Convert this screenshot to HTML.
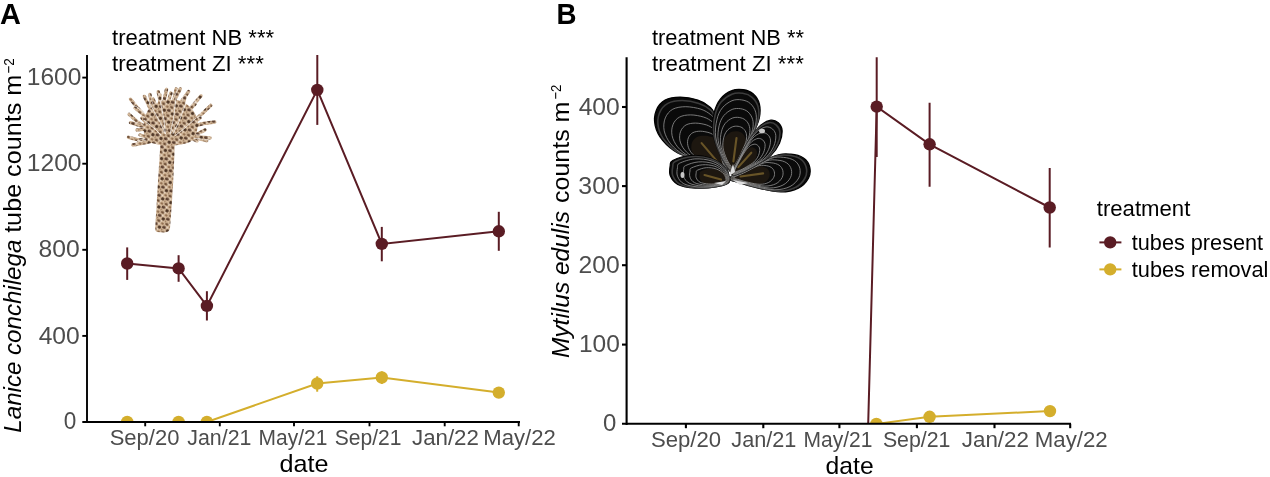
<!DOCTYPE html>
<html><head><meta charset="utf-8">
<style>
html,body{margin:0;padding:0;background:#fff;width:1270px;height:477px;overflow:hidden}
svg{display:block;will-change:transform}
text{font-family:"Liberation Sans",sans-serif}
</style></head>
<body>
<svg width="1270" height="477" viewBox="0 0 1270 477">
<defs>
<clipPath id="clipA"><rect x="86" y="55.1" width="436" height="366.9"/></clipPath>
<clipPath id="clipB"><rect x="625.5" y="57.2" width="447" height="366.6"/></clipPath>
</defs>
<rect width="1270" height="477" fill="#fff"/>
<defs><pattern id="wpat" width="10" height="10" patternUnits="userSpaceOnUse" patternTransform="rotate(25) scale(0.9)"><rect width="10" height="10" fill="#D5BA9C"/><ellipse cx="2" cy="2" rx="2.2" ry="1.6" fill="#5C4030"/><ellipse cx="7.2" cy="3.8" rx="1.9" ry="1.8" fill="#4E3626"/><ellipse cx="3.5" cy="7.5" rx="2.1" ry="1.5" fill="#6E4E36"/><ellipse cx="8.5" cy="8.8" rx="1.5" ry="1.3" fill="#8F6C4E"/><ellipse cx="5" cy="0.6" rx="1" ry="0.8" fill="#F2E6D8"/><ellipse cx="0.4" cy="5.2" rx="1.1" ry="1.1" fill="#9C7A5C"/><ellipse cx="5.8" cy="6.6" rx="0.9" ry="0.8" fill="#F2E6D8"/></pattern></defs>
<g id="worm">
<path d="M163.3,133.5 Q145.2,118.1 130.5,99.2" stroke="#FFFFFF" stroke-width="4.2" stroke-linecap="round" fill="none"/>
<path d="M163.3,133.5 Q145.2,118.1 130.5,99.2" stroke="url(#wpat)" stroke-width="3.4" stroke-linecap="round" fill="none"/>
<path d="M163.2,135.0 Q143.9,129.1 129.1,114.4" stroke="#FFFFFF" stroke-width="4.2" stroke-linecap="round" fill="none"/>
<path d="M163.2,135.0 Q143.9,129.1 129.1,114.4" stroke="url(#wpat)" stroke-width="3.4" stroke-linecap="round" fill="none"/>
<path d="M163.3,135.9 Q147.5,127.3 130.5,122.7" stroke="#FFFFFF" stroke-width="4.2" stroke-linecap="round" fill="none"/>
<path d="M163.3,135.9 Q147.5,127.3 130.5,122.7" stroke="url(#wpat)" stroke-width="3.4" stroke-linecap="round" fill="none"/>
<path d="M163.2,137.3 Q146.3,143.3 128.5,137.3" stroke="#FFFFFF" stroke-width="4.2" stroke-linecap="round" fill="none"/>
<path d="M163.2,137.3 Q146.3,143.3 128.5,137.3" stroke="url(#wpat)" stroke-width="3.4" stroke-linecap="round" fill="none"/>
<path d="M164.2,137.8 Q151.4,139.5 138.8,142.1" stroke="#FFFFFF" stroke-width="4.2" stroke-linecap="round" fill="none"/>
<path d="M164.2,137.8 Q151.4,139.5 138.8,142.1" stroke="url(#wpat)" stroke-width="3.4" stroke-linecap="round" fill="none"/>
<path d="M164.7,133.2 Q153.0,115.8 144.4,96.4" stroke="#FFFFFF" stroke-width="4.2" stroke-linecap="round" fill="none"/>
<path d="M164.7,133.2 Q153.0,115.8 144.4,96.4" stroke="url(#wpat)" stroke-width="3.4" stroke-linecap="round" fill="none"/>
<path d="M165.3,133.0 Q151.9,116.2 149.9,94.4" stroke="#FFFFFF" stroke-width="4.2" stroke-linecap="round" fill="none"/>
<path d="M165.3,133.0 Q151.9,116.2 149.9,94.4" stroke="url(#wpat)" stroke-width="3.4" stroke-linecap="round" fill="none"/>
<path d="M166.1,132.8 Q162.3,112.2 158.2,91.6" stroke="#FFFFFF" stroke-width="4.2" stroke-linecap="round" fill="none"/>
<path d="M166.1,132.8 Q162.3,112.2 158.2,91.6" stroke="url(#wpat)" stroke-width="3.4" stroke-linecap="round" fill="none"/>
<path d="M166.9,132.6 Q160.3,111.1 166.5,89.5" stroke="#FFFFFF" stroke-width="4.2" stroke-linecap="round" fill="none"/>
<path d="M166.9,132.6 Q160.3,111.1 166.5,89.5" stroke="url(#wpat)" stroke-width="3.4" stroke-linecap="round" fill="none"/>
<path d="M167.9,132.5 Q171.1,110.5 176.2,88.8" stroke="#FFFFFF" stroke-width="4.2" stroke-linecap="round" fill="none"/>
<path d="M167.9,132.5 Q171.1,110.5 176.2,88.8" stroke="url(#wpat)" stroke-width="3.4" stroke-linecap="round" fill="none"/>
<path d="M168.3,132.5 Q168.5,108.9 180.3,88.8" stroke="#FFFFFF" stroke-width="4.2" stroke-linecap="round" fill="none"/>
<path d="M168.3,132.5 Q168.5,108.9 180.3,88.8" stroke="url(#wpat)" stroke-width="3.4" stroke-linecap="round" fill="none"/>
<path d="M169.2,132.8 Q173.8,109.6 188.6,91.6" stroke="#FFFFFF" stroke-width="4.2" stroke-linecap="round" fill="none"/>
<path d="M169.2,132.8 Q173.8,109.6 188.6,91.6" stroke="url(#wpat)" stroke-width="3.4" stroke-linecap="round" fill="none"/>
<path d="M170.4,133.2 Q184.9,113.8 201.0,95.8" stroke="#FFFFFF" stroke-width="4.2" stroke-linecap="round" fill="none"/>
<path d="M170.4,133.2 Q184.9,113.8 201.0,95.8" stroke="url(#wpat)" stroke-width="3.4" stroke-linecap="round" fill="none"/>
<path d="M171.4,134.1 Q193.6,123.6 210.8,105.4" stroke="#FFFFFF" stroke-width="4.2" stroke-linecap="round" fill="none"/>
<path d="M171.4,134.1 Q193.6,123.6 210.8,105.4" stroke="url(#wpat)" stroke-width="3.4" stroke-linecap="round" fill="none"/>
<path d="M171.8,135.8 Q192.1,123.8 214.9,122.0" stroke="#FFFFFF" stroke-width="4.2" stroke-linecap="round" fill="none"/>
<path d="M171.8,135.8 Q192.1,123.8 214.9,122.0" stroke="url(#wpat)" stroke-width="3.4" stroke-linecap="round" fill="none"/>
<path d="M171.0,137.7 Q189.4,135.4 206.6,140.7" stroke="#FFFFFF" stroke-width="4.2" stroke-linecap="round" fill="none"/>
<path d="M171.0,137.7 Q189.4,135.4 206.6,140.7" stroke="url(#wpat)" stroke-width="3.4" stroke-linecap="round" fill="none"/>
<path d="M163.8,134.4 Q150.5,119.8 135.0,108.0" stroke="#FFFFFF" stroke-width="4.2" stroke-linecap="round" fill="none"/>
<path d="M163.8,134.4 Q150.5,119.8 135.0,108.0" stroke="url(#wpat)" stroke-width="3.4" stroke-linecap="round" fill="none"/>
<path d="M164.0,136.6 Q151.3,127.1 137.0,130.0" stroke="#FFFFFF" stroke-width="4.2" stroke-linecap="round" fill="none"/>
<path d="M164.0,136.6 Q151.3,127.1 137.0,130.0" stroke="url(#wpat)" stroke-width="3.4" stroke-linecap="round" fill="none"/>
<path d="M165.6,133.5 Q160.3,115.8 153.0,99.0" stroke="#FFFFFF" stroke-width="4.2" stroke-linecap="round" fill="none"/>
<path d="M165.6,133.5 Q160.3,115.8 153.0,99.0" stroke="url(#wpat)" stroke-width="3.4" stroke-linecap="round" fill="none"/>
<path d="M169.8,134.0 Q181.3,118.0 195.0,104.0" stroke="#FFFFFF" stroke-width="4.2" stroke-linecap="round" fill="none"/>
<path d="M169.8,134.0 Q181.3,118.0 195.0,104.0" stroke="url(#wpat)" stroke-width="3.4" stroke-linecap="round" fill="none"/>
<path d="M170.8,136.6 Q188.6,139.9 205.0,130.0" stroke="#FFFFFF" stroke-width="4.2" stroke-linecap="round" fill="none"/>
<path d="M170.8,136.6 Q188.6,139.9 205.0,130.0" stroke="url(#wpat)" stroke-width="3.4" stroke-linecap="round" fill="none"/>
<path d="M167.4,132.9 Q162.9,112.3 171.0,93.0" stroke="#FFFFFF" stroke-width="4.2" stroke-linecap="round" fill="none"/>
<path d="M167.4,132.9 Q162.9,112.3 171.0,93.0" stroke="url(#wpat)" stroke-width="3.4" stroke-linecap="round" fill="none"/>
<path d="M168.8,133.3 Q181.4,117.3 185.0,97.0" stroke="#FFFFFF" stroke-width="4.2" stroke-linecap="round" fill="none"/>
<path d="M168.8,133.3 Q181.4,117.3 185.0,97.0" stroke="url(#wpat)" stroke-width="3.4" stroke-linecap="round" fill="none"/>
<path d="M165.1,137.6 Q157.4,141.6 148.0,140.0" stroke="#FFFFFF" stroke-width="4.2" stroke-linecap="round" fill="none"/>
<path d="M165.1,137.6 Q157.4,141.6 148.0,140.0" stroke="url(#wpat)" stroke-width="3.4" stroke-linecap="round" fill="none"/>
<path d="M170.0,137.7 Q184.6,134.5 197.0,141.0" stroke="#FFFFFF" stroke-width="4.2" stroke-linecap="round" fill="none"/>
<path d="M170.0,137.7 Q184.6,134.5 197.0,141.0" stroke="url(#wpat)" stroke-width="3.4" stroke-linecap="round" fill="none"/>
<path d="M166.3,133.1 Q157.9,115.0 160.0,95.0" stroke="#FFFFFF" stroke-width="4.2" stroke-linecap="round" fill="none"/>
<path d="M166.3,133.1 Q157.9,115.0 160.0,95.0" stroke="url(#wpat)" stroke-width="3.4" stroke-linecap="round" fill="none"/>
<path d="M164.5,135.4 Q151.8,129.0 142.0,118.0" stroke="#FFFFFF" stroke-width="4.2" stroke-linecap="round" fill="none"/>
<path d="M164.5,135.4 Q151.8,129.0 142.0,118.0" stroke="url(#wpat)" stroke-width="3.4" stroke-linecap="round" fill="none"/>
<path d="M169.5,135.6 Q182.9,131.7 192.0,120.0" stroke="#FFFFFF" stroke-width="4.2" stroke-linecap="round" fill="none"/>
<path d="M169.5,135.6 Q182.9,131.7 192.0,120.0" stroke="url(#wpat)" stroke-width="3.4" stroke-linecap="round" fill="none"/>
<path d="M166.0,134.4 Q157.3,122.8 157.0,108.0" stroke="#FFFFFF" stroke-width="4.2" stroke-linecap="round" fill="none"/>
<path d="M166.0,134.4 Q157.3,122.8 157.0,108.0" stroke="url(#wpat)" stroke-width="3.4" stroke-linecap="round" fill="none"/>
<path d="M168.1,134.0 Q174.1,119.4 178.0,104.0" stroke="#FFFFFF" stroke-width="4.2" stroke-linecap="round" fill="none"/>
<path d="M168.1,134.0 Q174.1,119.4 178.0,104.0" stroke="url(#wpat)" stroke-width="3.4" stroke-linecap="round" fill="none"/>
<path d="M164.9,136.2 Q156.1,129.3 146.0,126.0" stroke="#FFFFFF" stroke-width="4.2" stroke-linecap="round" fill="none"/>
<path d="M164.9,136.2 Q156.1,129.3 146.0,126.0" stroke="url(#wpat)" stroke-width="3.4" stroke-linecap="round" fill="none"/>
<path d="M169.1,136.4 Q178.1,130.5 188.0,128.0" stroke="#FFFFFF" stroke-width="4.2" stroke-linecap="round" fill="none"/>
<path d="M169.1,136.4 Q178.1,130.5 188.0,128.0" stroke="url(#wpat)" stroke-width="3.4" stroke-linecap="round" fill="none"/>
<path d="M165.5,135.2 Q159.3,125.2 152.0,116.0" stroke="#FFFFFF" stroke-width="4.2" stroke-linecap="round" fill="none"/>
<path d="M165.5,135.2 Q159.3,125.2 152.0,116.0" stroke="url(#wpat)" stroke-width="3.4" stroke-linecap="round" fill="none"/>
<path d="M168.6,134.8 Q170.8,119.8 183.0,112.0" stroke="#FFFFFF" stroke-width="4.2" stroke-linecap="round" fill="none"/>
<path d="M168.6,134.8 Q170.8,119.8 183.0,112.0" stroke="url(#wpat)" stroke-width="3.4" stroke-linecap="round" fill="none"/>
<path d="M166.6,133.8 Q158.7,118.7 163.0,102.0" stroke="#FFFFFF" stroke-width="4.2" stroke-linecap="round" fill="none"/>
<path d="M166.6,133.8 Q158.7,118.7 163.0,102.0" stroke="url(#wpat)" stroke-width="3.4" stroke-linecap="round" fill="none"/>
<path d="M164.3,137.1 Q152.3,140.2 140.0,135.0" stroke="#FFFFFF" stroke-width="4.2" stroke-linecap="round" fill="none"/>
<path d="M164.3,137.1 Q152.3,140.2 140.0,135.0" stroke="url(#wpat)" stroke-width="3.4" stroke-linecap="round" fill="none"/>
<path d="M170.3,135.4 Q186.3,129.0 200.0,118.0" stroke="#FFFFFF" stroke-width="4.2" stroke-linecap="round" fill="none"/>
<path d="M170.3,135.4 Q186.3,129.0 200.0,118.0" stroke="url(#wpat)" stroke-width="3.4" stroke-linecap="round" fill="none"/>
<path d="M163.6,138.1 Q148.6,142.5 133.0,145.0" stroke="#FFFFFF" stroke-width="4.2" stroke-linecap="round" fill="none"/>
<path d="M163.6,138.1 Q148.6,142.5 133.0,145.0" stroke="url(#wpat)" stroke-width="3.4" stroke-linecap="round" fill="none"/>
<path d="M171.3,137.4 Q190.9,135.1 210.0,138.0" stroke="#FFFFFF" stroke-width="4.2" stroke-linecap="round" fill="none"/>
<path d="M171.3,137.4 Q190.9,135.1 210.0,138.0" stroke="url(#wpat)" stroke-width="3.4" stroke-linecap="round" fill="none"/>
<path d="M146,141 Q140,124 148,110 Q160,98 178,100 Q196,106 198,124 Q197,138 190,142 Q168,150 146,141 Z" fill="url(#wpat)"/>
<path d="M168,140 Q161.0,122.0 150,104" stroke="#FFFFFF" stroke-width="0.8" fill="none" opacity="0.85"/>
<path d="M170,140 Q180.0,121.5 186,103" stroke="#FFFFFF" stroke-width="0.8" fill="none" opacity="0.85"/>
<path d="M166,140 Q165.0,120.0 160,100" stroke="#FFFFFF" stroke-width="0.8" fill="none" opacity="0.85"/>
<path d="M172,138 Q186.0,128.0 196,118" stroke="#FFFFFF" stroke-width="0.8" fill="none" opacity="0.85"/>
<path d="M164,138 Q156.0,129.0 144,120" stroke="#FFFFFF" stroke-width="0.8" fill="none" opacity="0.85"/>
<path d="M169,139 Q174.5,118.5 176,98" stroke="#FFFFFF" stroke-width="0.8" fill="none" opacity="0.85"/>
<path d="M161,134 L175,134 Q174,180 170,228 Q169.5,232.5 163.5,232.5 L157,232 Q155,231 155.2,228 Q158,180 161,134 Z" fill="url(#wpat)"/>
</g>
<g id="mussel">
<path d="M728.0,174.3 C727.1,177.7 720.9,165.7 715.4,163.0 C709.9,160.3 701.6,159.7 695.3,158.0 C689.0,156.3 683.2,155.8 677.7,152.9 C672.2,150.0 666.4,145.0 662.6,140.4 C658.8,135.8 656.2,130.3 655.1,125.3 C654.0,120.3 654.6,114.4 656.3,110.2 C658.0,106.0 661.1,102.3 665.1,100.1 C669.1,97.9 674.8,97.1 680.2,97.1 C685.7,97.1 693.0,98.5 697.8,100.1 C702.6,101.6 706.4,104.1 709.1,106.4 C711.8,108.7 712.3,107.9 714.2,114.0 C716.1,120.1 718.2,132.8 720.5,142.9 C722.8,153.0 728.9,171.0 728.0,174.3 Z" fill="#0A0A0A" stroke="#000" stroke-width="1.2"/>
<path d="M727.6,173.9 C726.8,177.0 720.8,165.7 715.7,163.1 C710.5,160.5 702.5,160.0 696.6,158.4 C690.6,156.8 685.0,156.3 679.8,153.5 C674.7,150.7 669.1,146.0 665.5,141.6 C661.9,137.3 659.4,132.1 658.4,127.3 C657.4,122.5 657.9,116.9 659.5,113.0 C661.1,109.0 664.1,105.4 667.9,103.4 C671.7,101.3 677.0,100.5 682.2,100.5 C687.4,100.5 694.4,101.9 698.9,103.4 C703.5,104.8 707.1,107.1 709.7,109.3 C712.3,111.6 712.7,110.8 714.5,116.6 C716.3,122.3 718.3,134.5 720.5,144.0 C722.7,153.6 728.4,170.7 727.6,173.9 Z" fill="none" stroke="#3C3C3C" stroke-width="1.6"/>
<path d="M728.0,174.3 C727.6,176.0 724.4,170.0 721.7,168.7 C719.0,167.3 714.8,167.0 711.6,166.2 C708.5,165.3 705.6,165.1 702.9,163.6 C700.1,162.1 697.2,159.7 695.3,157.4 C693.4,155.1 692.1,152.3 691.5,149.8 C691.0,147.3 691.3,144.3 692.1,142.2 C693.0,140.2 694.6,138.3 696.5,137.2 C698.5,136.1 701.4,135.7 704.1,135.7 C706.8,135.7 710.5,136.4 712.9,137.2 C715.3,138.0 717.2,139.2 718.5,140.4 C719.9,141.5 720.1,141.1 721.1,144.2 C722.1,147.2 723.1,153.6 724.2,158.6 C725.4,163.6 728.4,172.6 728.0,174.3 Z" fill="#1D1710"/>
<line x1="719.2" y1="163.9" x2="701.6" y2="143.1" stroke="#685427" stroke-width="2.1" stroke-linecap="round"/>
<path d="M726.9,173.1 C726.2,175.9 720.8,165.7 716.1,163.3 C711.4,161.0 704.2,160.5 698.8,159.0 C693.4,157.6 688.4,157.2 683.7,154.6 C679.0,152.1 673.9,147.9 670.7,143.9 C667.5,139.9 665.2,135.2 664.2,130.9 C663.3,126.6 663.8,121.5 665.3,117.9 C666.7,114.3 669.4,111.1 672.8,109.2 C676.3,107.4 681.1,106.7 685.8,106.7 C690.5,106.7 696.8,107.9 701.0,109.2 C705.1,110.6 708.3,112.7 710.7,114.7 C713.0,116.7 713.4,116.0 715.1,121.2 C716.7,126.4 718.5,137.4 720.5,146.0 C722.5,154.7 727.7,170.2 726.9,173.1 Z" fill="none" stroke="#8C8C8C" stroke-width="0.85"/>
<path d="M726.0,172.0 C725.4,174.5 720.7,165.6 716.7,163.6 C712.7,161.6 706.5,161.2 701.8,159.9 C697.2,158.7 692.8,158.3 688.8,156.1 C684.8,154.0 680.4,150.3 677.6,146.9 C674.9,143.5 672.9,139.4 672.1,135.7 C671.3,132.0 671.7,127.7 673.0,124.6 C674.2,121.4 676.5,118.7 679.5,117.1 C682.4,115.5 686.6,114.9 690.7,114.9 C694.7,114.9 700.1,115.9 703.7,117.1 C707.3,118.2 710.0,120.0 712.1,121.7 C714.1,123.5 714.4,122.9 715.8,127.4 C717.2,131.9 718.8,141.3 720.5,148.7 C722.2,156.2 726.7,169.5 726.0,172.0 Z" fill="none" stroke="#8C8C8C" stroke-width="0.85"/>
<path d="M725.1,170.9 C724.6,173.0 720.7,165.6 717.3,163.9 C713.9,162.2 708.8,161.9 704.9,160.8 C701.0,159.8 697.3,159.5 693.9,157.6 C690.6,155.8 686.9,152.8 684.6,149.9 C682.2,147.0 680.6,143.7 679.9,140.5 C679.3,137.4 679.6,133.8 680.7,131.2 C681.7,128.6 683.7,126.3 686.1,124.9 C688.6,123.6 692.1,123.1 695.5,123.1 C698.9,123.1 703.4,124.0 706.4,124.9 C709.4,125.9 711.7,127.4 713.4,128.8 C715.1,130.3 715.4,129.8 716.6,133.5 C717.8,137.3 719.1,145.2 720.5,151.4 C721.9,157.7 725.7,168.8 725.1,170.9 Z" fill="none" stroke="#8C8C8C" stroke-width="0.85"/>
<path d="M724.2,169.8 C723.8,171.5 720.7,165.6 717.9,164.2 C715.2,162.8 711.0,162.5 707.9,161.7 C704.7,160.9 701.8,160.6 699.1,159.1 C696.4,157.7 693.4,155.2 691.5,152.9 C689.6,150.6 688.3,147.9 687.8,145.3 C687.3,142.8 687.5,139.9 688.4,137.8 C689.2,135.7 690.8,133.8 692.8,132.7 C694.8,131.7 697.6,131.2 700.3,131.2 C703.1,131.2 706.7,132.0 709.1,132.7 C711.5,133.5 713.4,134.7 714.8,135.9 C716.1,137.1 716.4,136.7 717.3,139.7 C718.3,142.7 719.3,149.1 720.5,154.1 C721.6,159.2 724.7,168.2 724.2,169.8 Z" fill="none" stroke="#8C8C8C" stroke-width="0.85"/>
<path d="M729.3,178.1 C731.0,175.6 742.9,171.8 750.6,168.0 C758.4,164.2 769.1,157.8 775.8,155.5 C782.5,153.2 786.3,153.8 790.9,154.2 C795.5,154.6 800.4,155.9 803.5,158.0 C806.6,160.1 808.9,163.5 809.7,166.8 C810.5,170.2 810.4,174.6 808.5,178.1 C806.6,181.6 803.0,185.8 798.4,188.1 C793.8,190.4 787.5,191.9 780.8,191.9 C774.1,191.9 764.9,189.6 758.2,188.1 C751.5,186.6 745.4,184.8 740.6,183.1 C735.8,181.4 727.6,180.6 729.3,178.1 Z" fill="#0A0A0A" stroke="#000" stroke-width="1.2"/>
<path d="M729.8,178.0 C731.4,175.6 742.7,172.0 750.0,168.4 C757.4,164.9 767.6,158.7 774.0,156.6 C780.3,154.4 783.9,154.9 788.3,155.3 C792.7,155.7 797.3,156.9 800.3,158.9 C803.2,160.9 805.4,164.1 806.2,167.3 C807.0,170.5 806.8,174.7 805.0,178.0 C803.2,181.4 799.8,185.3 795.4,187.5 C791.0,189.7 785.1,191.1 778.7,191.1 C772.3,191.1 763.6,188.9 757.2,187.5 C750.9,186.1 745.1,184.4 740.5,182.8 C735.9,181.2 728.2,180.4 729.8,178.0 Z" fill="none" stroke="#3C3C3C" stroke-width="1.6"/>
<path d="M729.3,178.1 C730.1,176.8 736.1,174.9 740.0,173.1 C743.8,171.2 749.2,168.0 752.5,166.8 C755.9,165.7 757.8,165.9 760.1,166.1 C762.4,166.4 764.8,167.0 766.4,168.1 C768.0,169.1 769.1,170.8 769.5,172.4 C769.9,174.1 769.8,176.3 768.9,178.1 C768.0,179.9 766.2,181.9 763.8,183.1 C761.5,184.2 758.4,185.0 755.0,185.0 C751.7,185.0 747.1,183.8 743.8,183.1 C740.4,182.4 737.4,181.4 735.0,180.6 C732.5,179.8 728.5,179.4 729.3,178.1 Z" fill="#1D1710"/>
<line x1="740.6" y1="176.5" x2="763.1" y2="173.4" stroke="#685427" stroke-width="2.1" stroke-linecap="round"/>
<path d="M730.7,177.9 C732.1,175.7 742.3,172.5 749.0,169.2 C755.6,166.0 764.9,160.5 770.6,158.5 C776.4,156.5 779.7,157.0 783.6,157.4 C787.6,157.7 791.8,158.8 794.5,160.6 C797.2,162.4 799.1,165.3 799.8,168.2 C800.5,171.1 800.4,174.9 798.8,177.9 C797.1,181.0 794.0,184.5 790.1,186.5 C786.1,188.5 780.7,189.8 774.9,189.8 C769.2,189.8 761.3,187.8 755.5,186.5 C749.7,185.2 744.5,183.6 740.4,182.2 C736.2,180.8 729.2,180.1 730.7,177.9 Z" fill="none" stroke="#8C8C8C" stroke-width="0.85"/>
<path d="M731.8,177.7 C733.0,175.9 741.8,173.1 747.6,170.3 C753.3,167.5 761.2,162.7 766.2,161.0 C771.2,159.3 774.0,159.8 777.4,160.1 C780.8,160.4 784.4,161.3 786.7,162.9 C789.0,164.4 790.7,166.9 791.3,169.4 C791.9,171.9 791.8,175.1 790.4,177.7 C789.0,180.4 786.4,183.4 782.9,185.1 C779.5,186.8 774.9,188.0 769.9,188.0 C765.0,188.0 758.2,186.2 753.2,185.1 C748.2,184.1 743.7,182.7 740.2,181.4 C736.6,180.2 730.6,179.6 731.8,177.7 Z" fill="none" stroke="#8C8C8C" stroke-width="0.85"/>
<path d="M733.0,177.6 C734.0,176.0 741.4,173.7 746.2,171.3 C751.0,169.0 757.6,165.0 761.8,163.6 C766.0,162.1 768.3,162.5 771.2,162.8 C774.0,163.0 777.0,163.8 779.0,165.1 C780.9,166.4 782.3,168.5 782.8,170.6 C783.3,172.7 783.2,175.4 782.1,177.6 C780.9,179.8 778.7,182.4 775.8,183.8 C772.9,185.2 769.1,186.1 764.9,186.1 C760.7,186.1 755.0,184.7 750.9,183.8 C746.7,182.9 743.0,181.7 740.0,180.7 C737.0,179.7 731.9,179.1 733.0,177.6 Z" fill="none" stroke="#8C8C8C" stroke-width="0.85"/>
<path d="M734.1,177.4 C735.0,176.2 740.9,174.3 744.8,172.4 C748.6,170.5 754.0,167.3 757.4,166.1 C760.7,165.0 762.6,165.3 764.9,165.5 C767.2,165.7 769.7,166.3 771.2,167.4 C772.8,168.4 773.9,170.1 774.3,171.8 C774.7,173.4 774.7,175.6 773.7,177.4 C772.8,179.2 771.0,181.3 768.7,182.4 C766.4,183.6 763.2,184.3 759.9,184.3 C756.5,184.3 751.9,183.2 748.6,182.4 C745.2,181.7 742.2,180.8 739.8,179.9 C737.4,179.1 733.3,178.7 734.1,177.4 Z" fill="none" stroke="#8C8C8C" stroke-width="0.85"/>
<path d="M731.8,173.1 C729.3,171.0 723.6,162.2 720.5,155.5 C717.4,148.8 713.9,139.9 712.9,132.8 C711.9,125.7 712.9,118.4 714.2,112.7 C715.5,107.0 717.6,102.6 720.5,98.9 C723.4,95.2 728.0,92.1 731.8,90.6 C735.6,89.0 739.5,89.1 743.1,89.6 C746.7,90.1 750.4,91.4 753.1,93.8 C755.8,96.2 758.4,99.9 759.4,103.9 C760.4,107.9 760.4,112.7 759.4,117.7 C758.4,122.7 755.6,128.2 753.1,134.1 C750.6,140.0 747.2,147.2 744.3,152.9 C741.4,158.6 737.6,164.6 735.5,168.0 C733.4,171.4 734.3,175.2 731.8,173.1 Z" fill="#0A0A0A" stroke="#000" stroke-width="1.2"/>
<path d="M731.9,172.6 C729.5,170.6 724.1,162.3 721.1,155.9 C718.1,149.5 714.9,141.1 713.9,134.3 C712.9,127.5 713.9,120.6 715.1,115.2 C716.4,109.9 718.3,105.6 721.1,102.1 C723.9,98.6 728.3,95.7 731.9,94.2 C735.4,92.8 739.2,92.8 742.6,93.3 C746.0,93.8 749.5,95.0 752.1,97.3 C754.7,99.5 757.1,103.1 758.1,106.9 C759.1,110.6 759.1,115.2 758.1,120.0 C757.1,124.8 754.5,130.0 752.1,135.5 C749.7,141.1 746.5,148.0 743.7,153.4 C741.0,158.8 737.4,164.6 735.4,167.8 C733.4,171.0 734.2,174.6 731.9,172.6 Z" fill="none" stroke="#3C3C3C" stroke-width="1.6"/>
<path d="M731.8,173.1 C730.5,172.1 727.7,167.7 726.1,164.3 C724.6,160.9 722.9,156.5 722.3,152.9 C721.8,149.4 722.4,145.7 723.0,142.9 C723.6,140.1 724.7,137.8 726.1,136.0 C727.6,134.2 729.9,132.6 731.8,131.8 C733.7,131.1 735.7,131.1 737.5,131.3 C739.2,131.6 741.1,132.3 742.5,133.4 C743.8,134.6 745.1,136.5 745.6,138.5 C746.1,140.5 746.1,142.9 745.6,145.4 C745.1,147.9 743.7,150.7 742.5,153.6 C741.2,156.5 739.5,160.2 738.0,163.0 C736.6,165.8 734.7,168.9 733.6,170.6 C732.6,172.2 733.0,174.1 731.8,173.1 Z" fill="#1D1710"/>
<line x1="733.4" y1="161.4" x2="736.5" y2="138.0" stroke="#685427" stroke-width="2.1" stroke-linecap="round"/>
<path d="M732.0,171.7 C729.8,169.9 725.0,162.3 722.3,156.6 C719.6,150.8 716.6,143.2 715.7,137.0 C714.8,130.9 715.8,124.6 716.9,119.8 C717.9,114.9 719.7,111.1 722.3,107.9 C724.8,104.7 728.8,102.1 732.0,100.7 C735.2,99.4 738.7,99.4 741.7,99.9 C744.8,100.3 748.0,101.4 750.3,103.5 C752.6,105.5 754.8,108.8 755.7,112.2 C756.6,115.6 756.6,119.7 755.7,124.1 C754.8,128.4 752.5,133.1 750.3,138.2 C748.1,143.2 745.3,149.5 742.7,154.3 C740.2,159.2 737.0,164.4 735.2,167.3 C733.4,170.2 734.1,173.5 732.0,171.7 Z" fill="none" stroke="#8C8C8C" stroke-width="0.85"/>
<path d="M732.2,170.5 C730.3,169.0 726.1,162.4 723.8,157.5 C721.5,152.5 718.9,146.0 718.2,140.7 C717.4,135.4 718.2,130.0 719.1,125.8 C720.1,121.6 721.6,118.3 723.8,115.6 C726.0,112.9 729.4,110.6 732.2,109.4 C734.9,108.3 737.9,108.3 740.5,108.7 C743.1,109.1 745.9,110.0 747.9,111.8 C749.9,113.6 751.8,116.3 752.6,119.3 C753.4,122.2 753.4,125.8 752.6,129.5 C751.8,133.2 749.8,137.3 747.9,141.6 C746.1,146.0 743.6,151.4 741.4,155.5 C739.2,159.7 736.4,164.2 734.9,166.7 C733.3,169.2 734.0,172.0 732.2,170.5 Z" fill="none" stroke="#8C8C8C" stroke-width="0.85"/>
<path d="M732.3,169.3 C730.8,168.0 727.3,162.5 725.3,158.4 C723.4,154.2 721.2,148.7 720.6,144.3 C719.9,139.9 720.6,135.3 721.4,131.8 C722.2,128.3 723.5,125.6 725.3,123.3 C727.1,121.0 730.0,119.1 732.3,118.1 C734.7,117.2 737.1,117.2 739.3,117.5 C741.5,117.9 743.8,118.6 745.5,120.1 C747.2,121.6 748.8,123.9 749.4,126.4 C750.1,128.9 750.1,131.8 749.4,134.9 C748.8,138.1 747.1,141.5 745.5,145.1 C744.0,148.7 741.9,153.3 740.1,156.8 C738.2,160.3 735.9,164.0 734.6,166.1 C733.3,168.2 733.9,170.6 732.3,169.3 Z" fill="none" stroke="#8C8C8C" stroke-width="0.85"/>
<path d="M732.5,168.1 C731.2,167.0 728.4,162.6 726.8,159.3 C725.3,155.9 723.6,151.5 723.0,147.9 C722.5,144.4 723.0,140.7 723.7,137.9 C724.3,135.1 725.4,132.8 726.8,131.0 C728.3,129.1 730.6,127.6 732.5,126.8 C734.4,126.1 736.4,126.1 738.1,126.3 C739.9,126.6 741.8,127.2 743.1,128.4 C744.5,129.6 745.8,131.5 746.3,133.5 C746.8,135.5 746.8,137.9 746.3,140.4 C745.8,142.9 744.4,145.7 743.1,148.6 C741.9,151.5 740.2,155.2 738.7,158.0 C737.3,160.8 735.4,163.9 734.3,165.5 C733.3,167.2 733.7,169.1 732.5,168.1 Z" fill="none" stroke="#8C8C8C" stroke-width="0.85"/>
<path d="M731.8,174.3 C731.8,171.4 737.5,161.6 740.6,155.5 C743.7,149.4 747.2,142.8 750.6,137.8 C754.0,132.8 757.3,128.2 760.7,125.3 C764.1,122.4 767.9,120.6 770.8,120.2 C773.7,119.8 776.4,121.1 778.3,122.8 C780.2,124.5 781.9,127.0 782.1,130.3 C782.3,133.7 781.5,138.7 779.6,142.9 C777.7,147.1 774.8,151.7 770.8,155.5 C766.8,159.3 760.7,162.6 755.7,165.5 C750.7,168.4 744.6,171.6 740.6,173.1 C736.6,174.6 731.8,177.2 731.8,174.3 Z" fill="#0A0A0A" stroke="#000" stroke-width="1.2"/>
<path d="M732.1,174.0 C732.1,171.2 737.5,161.9 740.4,156.1 C743.4,150.4 746.8,144.1 749.9,139.3 C753.1,134.5 756.3,130.2 759.5,127.4 C762.7,124.7 766.3,123.0 769.1,122.6 C771.9,122.2 774.5,123.5 776.3,125.1 C778.0,126.7 779.7,129.0 779.9,132.2 C780.1,135.4 779.3,140.2 777.5,144.2 C775.7,148.2 772.9,152.6 769.1,156.1 C765.3,159.7 759.6,162.8 754.8,165.6 C750.0,168.4 744.2,171.5 740.4,172.9 C736.7,174.2 732.1,176.8 732.1,174.0 Z" fill="none" stroke="#3C3C3C" stroke-width="1.6"/>
<path d="M731.8,174.3 C731.8,172.8 734.6,167.9 736.2,164.9 C737.8,161.9 739.5,158.6 741.2,156.1 C742.9,153.5 744.6,151.3 746.2,149.8 C747.9,148.3 749.8,147.5 751.3,147.2 C752.8,147.0 754.1,147.7 755.0,148.6 C756.0,149.4 756.8,150.6 757.0,152.3 C757.1,154.0 756.6,156.5 755.7,158.6 C754.8,160.7 753.3,163.0 751.3,164.9 C749.3,166.8 746.3,168.4 743.8,169.9 C741.2,171.4 738.2,173.0 736.2,173.7 C734.2,174.4 731.8,175.8 731.8,174.3 Z" fill="#1D1710"/>
<line x1="738.3" y1="167.1" x2="751.3" y2="152.7" stroke="#685427" stroke-width="2.1" stroke-linecap="round"/>
<path d="M732.6,173.4 C732.6,170.9 737.5,162.5 740.1,157.3 C742.8,152.0 745.9,146.4 748.7,142.0 C751.6,137.7 754.5,133.8 757.4,131.3 C760.3,128.8 763.6,127.3 766.1,126.9 C768.6,126.6 771.0,127.7 772.6,129.1 C774.2,130.6 775.7,132.7 775.8,135.6 C776.0,138.5 775.3,142.8 773.7,146.4 C772.1,150.0 769.5,154.0 766.1,157.3 C762.7,160.5 757.5,163.3 753.1,165.9 C748.8,168.4 743.6,171.1 740.1,172.4 C736.7,173.7 732.6,176.0 732.6,173.4 Z" fill="none" stroke="#8C8C8C" stroke-width="0.85"/>
<path d="M733.3,172.7 C733.3,170.5 737.4,163.3 739.8,158.8 C742.1,154.3 744.7,149.4 747.2,145.7 C749.6,142.0 752.1,138.6 754.6,136.4 C757.1,134.3 759.9,133.0 762.1,132.7 C764.3,132.4 766.3,133.3 767.7,134.6 C769.1,135.8 770.3,137.7 770.5,140.1 C770.6,142.6 770.0,146.3 768.6,149.5 C767.2,152.6 765.1,156.0 762.1,158.8 C759.2,161.6 754.7,164.0 750.9,166.2 C747.2,168.4 742.7,170.7 739.8,171.8 C736.8,172.9 733.3,174.9 733.3,172.7 Z" fill="none" stroke="#8C8C8C" stroke-width="0.85"/>
<path d="M733.9,172.0 C733.9,170.1 737.4,164.1 739.4,160.3 C741.3,156.5 743.5,152.4 745.6,149.3 C747.7,146.2 749.8,143.4 751.8,141.6 C753.9,139.8 756.3,138.7 758.1,138.4 C759.9,138.2 761.6,139.0 762.8,140.0 C763.9,141.1 765.0,142.6 765.1,144.7 C765.2,146.7 764.7,149.9 763.6,152.5 C762.4,155.1 760.6,158.0 758.1,160.3 C755.6,162.6 751.9,164.7 748.7,166.5 C745.6,168.3 741.8,170.3 739.4,171.2 C736.9,172.1 733.9,173.8 733.9,172.0 Z" fill="none" stroke="#8C8C8C" stroke-width="0.85"/>
<path d="M734.6,171.2 C734.6,169.7 737.4,164.9 739.0,161.8 C740.6,158.8 742.3,155.5 744.0,153.0 C745.7,150.4 747.4,148.2 749.0,146.7 C750.7,145.2 752.6,144.4 754.1,144.2 C755.6,144.0 756.9,144.6 757.8,145.5 C758.8,146.3 759.6,147.5 759.7,149.2 C759.8,150.9 759.4,153.4 758.5,155.5 C757.5,157.6 756.1,159.9 754.1,161.8 C752.1,163.7 749.1,165.3 746.5,166.8 C744.0,168.3 741.0,169.9 739.0,170.6 C737.0,171.3 734.6,172.7 734.6,171.2 Z" fill="none" stroke="#8C8C8C" stroke-width="0.85"/>
<path d="M729.3,181.9 C727.6,185.1 721.1,185.9 715.4,186.9 C709.7,187.9 701.6,188.5 695.3,188.1 C689.0,187.7 681.9,186.5 677.7,184.4 C673.5,182.3 671.5,178.8 670.2,175.6 C669.0,172.4 669.8,168.0 670.2,165.5 C670.6,163.0 669.4,162.2 672.7,160.5 C676.1,158.8 684.0,155.9 690.3,155.5 C696.6,155.1 704.5,155.9 710.4,158.0 C716.3,160.1 722.4,164.0 725.5,168.0 C728.6,172.0 731.0,178.8 729.3,181.9 Z" fill="#0A0A0A" stroke="#000" stroke-width="1.2"/>
<path d="M728.9,181.8 C727.3,184.8 721.1,185.6 715.7,186.6 C710.4,187.5 702.6,188.1 696.6,187.7 C690.7,187.3 683.9,186.2 679.9,184.2 C676.0,182.2 674.0,178.8 672.8,175.8 C671.6,172.8 672.4,168.6 672.8,166.2 C673.2,163.8 672.0,163.1 675.2,161.5 C678.4,159.9 685.9,157.1 691.9,156.7 C697.9,156.3 705.4,157.1 711.0,159.1 C716.6,161.1 722.3,164.8 725.3,168.6 C728.3,172.4 730.5,178.8 728.9,181.8 Z" fill="none" stroke="#3C3C3C" stroke-width="1.6"/>
<path d="M729.3,181.9 C728.5,183.5 725.2,183.9 722.3,184.4 C719.5,184.9 715.4,185.2 712.3,185.0 C709.2,184.8 705.6,184.2 703.5,183.2 C701.4,182.1 700.4,180.3 699.8,178.8 C699.1,177.2 699.5,175.0 699.8,173.7 C700.0,172.4 699.3,172.0 701.0,171.2 C702.7,170.4 706.7,168.9 709.8,168.7 C712.9,168.5 716.9,168.9 719.8,169.9 C722.8,171.0 725.8,173.0 727.4,174.9 C729.0,176.9 730.1,180.3 729.3,181.9 Z" fill="#1D1710"/>
<line x1="721.0" y1="179.6" x2="704.5" y2="175.0" stroke="#685427" stroke-width="2.1" stroke-linecap="round"/>
<path d="M728.3,181.6 C726.9,184.3 721.2,185.0 716.4,185.9 C711.5,186.8 704.5,187.3 699.1,187.0 C693.7,186.6 687.5,185.6 683.9,183.8 C680.3,182.0 678.6,178.9 677.5,176.2 C676.4,173.5 677.1,169.7 677.5,167.5 C677.8,165.4 676.8,164.7 679.6,163.2 C682.5,161.8 689.4,159.3 694.8,158.9 C700.2,158.6 707.0,159.3 712.1,161.1 C717.1,162.9 722.3,166.2 725.0,169.7 C727.7,173.1 729.8,178.9 728.3,181.6 Z" fill="none" stroke="#8C8C8C" stroke-width="0.85"/>
<path d="M727.5,181.4 C726.2,183.7 721.4,184.3 717.2,185.1 C713.0,185.9 706.9,186.3 702.3,186.0 C697.6,185.7 692.4,184.8 689.3,183.2 C686.2,181.7 684.6,179.1 683.7,176.7 C682.8,174.4 683.4,171.1 683.7,169.3 C684.0,167.4 683.1,166.8 685.6,165.6 C688.1,164.3 693.9,162.2 698.6,161.9 C703.2,161.5 709.1,162.2 713.5,163.7 C717.8,165.2 722.3,168.2 724.6,171.1 C727.0,174.0 728.7,179.1 727.5,181.4 Z" fill="none" stroke="#8C8C8C" stroke-width="0.85"/>
<path d="M726.6,181.2 C725.6,183.1 721.5,183.6 718.0,184.3 C714.5,184.9 709.4,185.3 705.5,185.0 C701.6,184.7 697.2,184.0 694.6,182.7 C692.0,181.4 690.7,179.2 690.0,177.2 C689.2,175.3 689.7,172.5 690.0,171.0 C690.2,169.4 689.4,168.9 691.5,167.9 C693.6,166.9 698.5,165.0 702.4,164.8 C706.3,164.5 711.2,165.0 714.9,166.3 C718.5,167.6 722.3,170.1 724.2,172.5 C726.2,175.0 727.6,179.2 726.6,181.2 Z" fill="none" stroke="#8C8C8C" stroke-width="0.85"/>
<path d="M725.8,180.9 C724.9,182.5 721.6,182.9 718.8,183.4 C716.0,183.9 711.9,184.2 708.8,184.0 C705.6,183.8 702.0,183.2 700.0,182.2 C697.9,181.1 696.8,179.3 696.2,177.8 C695.6,176.2 696.0,174.0 696.2,172.7 C696.4,171.5 695.8,171.0 697.5,170.2 C699.1,169.4 703.1,167.9 706.3,167.7 C709.4,167.5 713.4,167.9 716.3,169.0 C719.2,170.0 722.3,172.0 723.9,174.0 C725.4,176.0 726.6,179.3 725.8,180.9 Z" fill="none" stroke="#8C8C8C" stroke-width="0.85"/>
<ellipse cx="762" cy="131" rx="3" ry="2.3" fill="#C8C8C8"/>
<ellipse cx="682.5" cy="175" rx="2" ry="3" fill="#C8C8C8"/>
<path d="M729,176 L733,164 L735,172 Z" fill="#DDD"/>
<path d="M733,180 L748,183 L740,185 Z" fill="#DDD"/>
<path d="M714,183 L726,181 L722,185 Z" fill="#DDD"/>
</g>
<g clip-path="url(#clipA)">
<g stroke="#D4AE2C" stroke-width="2" fill="none"><polyline points="127.2,422 178.6,422 206.9,422 317.2,383.5 381.8,377.5 498.8,392.6"/><line x1="317.2" y1="376.3" x2="317.2" y2="391.7"/><line x1="381.8" y1="371.4" x2="381.8" y2="384"/></g><g fill="#D4AE2C"><circle cx="127.2" cy="422" r="6.2"/><circle cx="178.6" cy="422" r="6.2"/><circle cx="206.9" cy="422" r="6.2"/><circle cx="317.2" cy="383.5" r="6.2"/><circle cx="381.8" cy="377.5" r="6.2"/><circle cx="498.8" cy="392.6" r="6.2"/></g>
<g stroke="#5A1C24" stroke-width="2" fill="none"><polyline points="127.2,263.5 178.6,268.4 206.9,305.9 317.3,89.9 381.8,243.9 498.8,231.3"/><line x1="127.2" y1="247.4" x2="127.2" y2="279.9"/><line x1="178.6" y1="255.2" x2="178.6" y2="281.8"/><line x1="206.9" y1="291.2" x2="206.9" y2="320.5"/><line x1="317.3" y1="50" x2="317.3" y2="124.9"/><line x1="381.8" y1="226.9" x2="381.8" y2="261.3"/><line x1="498.8" y1="211.8" x2="498.8" y2="250.8"/></g><g fill="#5A1C24"><circle cx="127.2" cy="263.5" r="6.2"/><circle cx="178.6" cy="268.4" r="6.2"/><circle cx="206.9" cy="305.9" r="6.2"/><circle cx="317.3" cy="89.9" r="6.2"/><circle cx="381.8" cy="243.9" r="6.2"/><circle cx="498.8" cy="231.3" r="6.2"/></g>
</g>
<g clip-path="url(#clipB)">
<g stroke="#D4AE2C" stroke-width="2" fill="none"><polyline points="876.4,423.9 929.6,416.8 1050,411.1"/></g><g fill="#D4AE2C"><circle cx="876.4" cy="423.9" r="6.2"/><circle cx="929.6" cy="416.8" r="6.2"/><circle cx="1050" cy="411.1" r="6.2"/></g>
<g stroke="#5A1C24" stroke-width="2" fill="none"><polyline points="868.2,423.9 876.7,106.6 929.6,144.3 1049.7,207.5"/><line x1="876.7" y1="50" x2="876.7" y2="157"/><line x1="929.6" y1="102.8" x2="929.6" y2="186.8"/><line x1="1049.7" y1="167.9" x2="1049.7" y2="247.5"/></g><g fill="#5A1C24"><circle cx="876.7" cy="106.6" r="6.2"/><circle cx="929.6" cy="144.3" r="6.2"/><circle cx="1049.7" cy="207.5" r="6.2"/></g>
</g>
<g stroke="#000" stroke-width="1.9" fill="none">
<line x1="87" y1="55.1" x2="87" y2="423"/>
<line x1="82.3" y1="422" x2="520" y2="422"/>
<line x1="82.3" y1="335.9" x2="87" y2="335.9"/>
<line x1="82.3" y1="249.8" x2="87" y2="249.8"/>
<line x1="82.3" y1="163.7" x2="87" y2="163.7"/>
<line x1="82.3" y1="77.6" x2="87" y2="77.6"/>
<line x1="145.2" y1="422" x2="145.2" y2="426.3"/><line x1="219.8" y1="422" x2="219.8" y2="426.3"/><line x1="294" y1="422" x2="294" y2="426.3"/><line x1="369.5" y1="422" x2="369.5" y2="426.3"/><line x1="444.7" y1="422" x2="444.7" y2="426.3"/><line x1="518.7" y1="422" x2="518.7" y2="426.3"/></g>
<g stroke="#000" stroke-width="2.1" fill="none">
<line x1="626.6" y1="57.2" x2="626.6" y2="425"/>
<line x1="622" y1="423.8" x2="1071" y2="423.8"/>
<line x1="622" y1="344.6" x2="626.6" y2="344.6"/>
<line x1="622" y1="265.2" x2="626.6" y2="265.2"/>
<line x1="622" y1="186.1" x2="626.6" y2="186.1"/>
<line x1="622" y1="107" x2="626.6" y2="107"/>
<line x1="685.9" y1="423.8" x2="685.9" y2="428.2"/><line x1="763.3" y1="423.8" x2="763.3" y2="428.2"/><line x1="839.4" y1="423.8" x2="839.4" y2="428.2"/><line x1="916.9" y1="423.8" x2="916.9" y2="428.2"/><line x1="994.5" y1="423.8" x2="994.5" y2="428.2"/><line x1="1070.2" y1="423.8" x2="1070.2" y2="428.2"/></g>
<g>
<line x1="1099.4" y1="242.4" x2="1121.4" y2="242.4" stroke="#5A1C24" stroke-width="2"/>
<circle cx="1110.2" cy="242.4" r="6.2" fill="#5A1C24"/>
<line x1="1099.4" y1="269.4" x2="1121.4" y2="269.4" stroke="#D4AE2C" stroke-width="2"/>
<circle cx="1110.2" cy="269.4" r="6.2" fill="#D4AE2C"/>
</g>
<text x="-0.10" y="23.9" font-size="28.6" font-weight="bold" fill="#000" textLength="20.90" lengthAdjust="spacingAndGlyphs">A</text>
<text x="556.43" y="23.9" font-size="28.6" font-weight="bold" fill="#000" textLength="20.02" lengthAdjust="spacingAndGlyphs">B</text>
<text x="112.02" y="45" font-size="22" fill="#000" textLength="162.06" lengthAdjust="spacingAndGlyphs">treatment NB ***</text>
<text x="112.02" y="70.7" font-size="22" fill="#000" textLength="151.76" lengthAdjust="spacingAndGlyphs">treatment ZI ***</text>
<text x="651.95" y="45" font-size="22" fill="#000" textLength="151.97" lengthAdjust="spacingAndGlyphs">treatment NB **</text>
<text x="652.02" y="70.7" font-size="22" fill="#000" textLength="151.76" lengthAdjust="spacingAndGlyphs">treatment ZI ***</text>
<text x="63.70" y="429.2" font-size="24.6" fill="#4D4D4D" textLength="12.57" lengthAdjust="spacingAndGlyphs">0</text>
<text x="38.67" y="343.8" font-size="24.6" fill="#4D4D4D" textLength="41.12" lengthAdjust="spacingAndGlyphs">400</text>
<text x="38.62" y="257.3" font-size="24.6" fill="#4D4D4D" textLength="41.20" lengthAdjust="spacingAndGlyphs">800</text>
<text x="26.77" y="171.2" font-size="24.6" fill="#4D4D4D" textLength="54.80" lengthAdjust="spacingAndGlyphs">1200</text>
<text x="26.78" y="85.0" font-size="24.6" fill="#4D4D4D" textLength="54.67" lengthAdjust="spacingAndGlyphs">1600</text>
<text x="602.90" y="431.4" font-size="24.6" fill="#4D4D4D" textLength="13.32" lengthAdjust="spacingAndGlyphs">0</text>
<text x="578.89" y="352" font-size="24.6" fill="#4D4D4D" textLength="40.93" lengthAdjust="spacingAndGlyphs">100</text>
<text x="578.55" y="273" font-size="24.6" fill="#4D4D4D" textLength="41.26" lengthAdjust="spacingAndGlyphs">200</text>
<text x="578.33" y="193.9" font-size="24.6" fill="#4D4D4D" textLength="41.44" lengthAdjust="spacingAndGlyphs">300</text>
<text x="578.67" y="114.5" font-size="24.6" fill="#4D4D4D" textLength="41.12" lengthAdjust="spacingAndGlyphs">400</text>
<text x="109.67" y="445.2" font-size="22" fill="#4D4D4D" textLength="69.72" lengthAdjust="spacingAndGlyphs">Sep/20</text>
<text x="187.34" y="445.2" font-size="22" fill="#4D4D4D" textLength="64.10" lengthAdjust="spacingAndGlyphs">Jan/21</text>
<text x="258.55" y="445.2" font-size="22" fill="#4D4D4D" textLength="68.80" lengthAdjust="spacingAndGlyphs">May/21</text>
<text x="334.75" y="445.2" font-size="22" fill="#4D4D4D" textLength="66.78" lengthAdjust="spacingAndGlyphs">Sep/21</text>
<text x="412.02" y="445.2" font-size="22" fill="#4D4D4D" textLength="66.88" lengthAdjust="spacingAndGlyphs">Jan/22</text>
<text x="483.24" y="445.2" font-size="22" fill="#4D4D4D" textLength="72.50" lengthAdjust="spacingAndGlyphs">May/22</text>
<text x="650.96" y="447.1" font-size="22" fill="#4D4D4D" textLength="70.17" lengthAdjust="spacingAndGlyphs">Sep/20</text>
<text x="731.34" y="447.1" font-size="22" fill="#4D4D4D" textLength="65.11" lengthAdjust="spacingAndGlyphs">Jan/21</text>
<text x="803.51" y="447.1" font-size="22" fill="#4D4D4D" textLength="68.93" lengthAdjust="spacingAndGlyphs">May/21</text>
<text x="882.88" y="447.1" font-size="22" fill="#4D4D4D" textLength="67.61" lengthAdjust="spacingAndGlyphs">Sep/21</text>
<text x="961.81" y="447.1" font-size="22" fill="#4D4D4D" textLength="67.16" lengthAdjust="spacingAndGlyphs">Jan/22</text>
<text x="1034.78" y="447.1" font-size="22" fill="#4D4D4D" textLength="72.93" lengthAdjust="spacingAndGlyphs">May/22</text>
<text x="279.48" y="471.7" font-size="24.6" fill="#000" textLength="49.04" lengthAdjust="spacingAndGlyphs">date</text>
<text x="825.55" y="473.8" font-size="24.6" fill="#000" textLength="48.13" lengthAdjust="spacingAndGlyphs">date</text>
<text x="1096.76" y="215.7" font-size="22" fill="#000" textLength="93.60" lengthAdjust="spacingAndGlyphs">treatment</text>
<text x="1131.76" y="250.4" font-size="22" fill="#000" textLength="131.37" lengthAdjust="spacingAndGlyphs">tubes present</text>
<text x="1131.76" y="277" font-size="22" fill="#000" textLength="136.68" lengthAdjust="spacingAndGlyphs">tubes removal</text>
<text transform="translate(21.4,432.67) rotate(-90)" x="0" y="0" font-size="24.6" font-style="italic" fill="#000" textLength="192.98" lengthAdjust="spacingAndGlyphs">Lanice conchilega</text>
<text transform="translate(21.4,232.87) rotate(-90)" x="0" y="0" font-size="24.6" fill="#000" textLength="158.14" lengthAdjust="spacingAndGlyphs">tube counts m</text>
<text transform="translate(13.6,73.60) rotate(-90)" x="0" y="0" font-size="15.4" fill="#000" textLength="15.41" lengthAdjust="spacingAndGlyphs">−2</text>
<text transform="translate(569.2,358.02) rotate(-90)" x="0" y="0" font-size="24.6" font-style="italic" fill="#000" textLength="146.98" lengthAdjust="spacingAndGlyphs">Mytilus edulis</text>
<text transform="translate(569.2,203.00) rotate(-90)" x="0" y="0" font-size="24.6" fill="#000" textLength="101.38" lengthAdjust="spacingAndGlyphs">counts m</text>
<text transform="translate(561.4,99.59) rotate(-90)" x="0" y="0" font-size="15.4" fill="#000" textLength="15.07" lengthAdjust="spacingAndGlyphs">−2</text>
</svg>
</body></html>
